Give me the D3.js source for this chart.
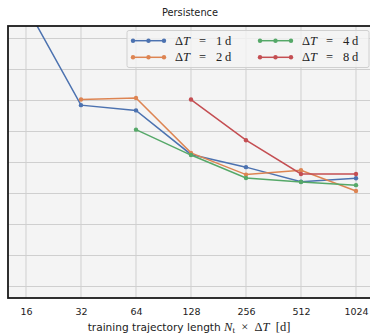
<!DOCTYPE html>
<html>
<head>
<meta charset="utf-8">
<script src="https://cdn.jsdelivr.net/npm/d3@7"></script>
<style>
  body { margin: 0; background: #fff; }
  text { font-family: "DejaVu Sans", sans-serif; }
  .math { font-family: "Liberation Serif", serif; }
</style>
</head>
<body>
<svg id="chart" width="370" height="334"></svg>
<script>
// training trajectory lengths (days)
var lengths = [16, 32, 64, 128, 256, 512, 1024];
var xTickLabels = ["16", "32", "64", "128", "256", "512", "1024"];
// y ticks (unlabelled in the figure)
var yTicks = [0, 1, 2, 3, 4, 5, 6, 7, 8];

// error values per ΔT (arbitrary units)
var dt1 = [9.05, 5.85, 5.68, 4.26, 3.85, 3.38, 3.49];
var dt2 = [null, 6.03, 6.08, 4.31, 3.61, 3.75, 3.08];
var dt4 = [null, null, 5.06, 4.24, 3.50, 3.37, 3.27];
var dt8 = [null, null, null, 6.03, 4.72, 3.63, 3.63];

var seriesNames = ["1", "2", "4", "8"];
var seriesValues = [dt1, dt2, dt4, dt8];
var colors = ["#4c72b0", "#dd8452", "#55a868", "#c44e52"];

var svg = d3.select("#chart");
var pLeft = 8, pTop = 26, pRight = 376, pBottom = 298;

var x = d3.scaleLog().base(2).domain([16, 1024]).range([26, 356]);
var y = d3.scaleLinear().domain([0, 8]).range([286.5, 38.5]);

svg.append("defs").append("clipPath").attr("id", "clip")
    .append("rect")
    .attr("x", pLeft).attr("y", pTop)
    .attr("width", pRight - pLeft).attr("height", pBottom - pTop);

// background
svg.append("rect")
    .attr("x", pLeft).attr("y", pTop)
    .attr("width", pRight - pLeft).attr("height", pBottom - pTop)
    .attr("fill", "#f4f4f4");

// grid
var grid = svg.append("g").attr("clip-path", "url(#clip)");
grid.selectAll(".vgrid")
    .data(lengths)
    .enter()
    .append("line")
    .attr("x1", function(d){ return x(d); })
    .attr("x2", function(d){ return x(d); })
    .attr("y1", pTop).attr("y2", pBottom)
    .attr("stroke", "#cfcfcf").attr("stroke-width", 1);
grid.selectAll(".hgrid")
    .data(yTicks)
    .enter()
    .append("line")
    .attr("x1", pLeft).attr("x2", pRight)
    .attr("y1", function(d){ return y(d); })
    .attr("y2", function(d){ return y(d); })
    .attr("stroke", "#cfcfcf").attr("stroke-width", 1);

// lines
var plot = svg.append("g").attr("clip-path", "url(#clip)");
var line = d3.line()
    .defined(function(d){ return d.v != null; })
    .x(function(d){ return x(d.len); })
    .y(function(d){ return y(d.v); });

seriesValues.forEach(function(vals, i){
  var pts = lengths.map(function(len, j){ return {len: len, v: vals[j]}; });
  plot.append("path")
      .datum(pts)
      .attr("d", line)
      .attr("fill", "none")
      .attr("stroke", colors[i])
      .attr("stroke-width", 1.5);
  plot.selectAll(".pt" + i)
      .data(pts.filter(function(d){ return d.v != null; }))
      .enter()
      .append("circle")
      .attr("cx", function(d){ return x(d.len); })
      .attr("cy", function(d){ return y(d.v); })
      .attr("r", 2.2)
      .attr("fill", colors[i]);
});

// frame
svg.append("rect")
    .attr("x", pLeft).attr("y", pTop)
    .attr("width", pRight - pLeft).attr("height", pBottom - pTop)
    .attr("fill", "none")
    .attr("stroke", "#1a1a1a")
    .attr("stroke-width", 1.8);

// x axis labels
var xAxis = d3.axisBottom(x)
    .tickValues(lengths)
    .tickFormat(function(d, i){ return xTickLabels[i]; })
    .tickSize(0)
    .tickPadding(10);
var gx = svg.append("g")
    .attr("transform", "translate(0," + pBottom + ")")
    .call(xAxis);
gx.select(".domain").remove();
gx.selectAll("text")
    .attr("font-family", "DejaVu Sans, sans-serif")
    .attr("font-size", 9.5)
    .attr("fill", "#222");

// title
svg.append("text")
    .attr("x", 190).attr("y", 15.5)
    .attr("text-anchor", "middle")
    .attr("font-size", 9.8)
    .attr("fill", "#222")
    .text("Persistence");

// x axis title
var xl = svg.append("text")
    .attr("x", 189).attr("y", 331)
    .attr("text-anchor", "middle")
    .attr("font-size", 10.6)
    .attr("fill", "#222")
    .style("white-space", "pre");
xl.append("tspan").text("training trajectory length ");
xl.append("tspan").attr("class", "math").attr("font-style", "italic").attr("font-size", 12.5).text("N");
xl.append("tspan").attr("class", "math").attr("font-size", 9).attr("dy", 2).text("t");
xl.append("tspan").attr("class", "math").attr("font-size", 12.5).attr("dy", -2).text("  ×  Δ");
xl.append("tspan").attr("class", "math").attr("font-style", "italic").attr("font-size", 12.5).text("T");
xl.append("tspan").attr("class", "math").attr("font-size", 12.5).text("  [d]");

// legend
var legend = svg.append("g");
legend.append("rect")
    .attr("x", 127).attr("y", 30.5)
    .attr("width", 242).attr("height", 37)
    .attr("rx", 2)
    .attr("fill", "#f4f4f4").attr("fill-opacity", 0.8)
    .attr("stroke", "#d0d0d0").attr("stroke-width", 1);

var legendPos = [[133, 40.7], [133, 57.3], [260, 40.7], [260, 57.3]];
seriesNames.forEach(function(name, i){
  var p = legendPos[i];
  var g = legend.append("g").attr("transform", "translate(" + p[0] + "," + p[1] + ")");
  g.append("line")
      .attr("x1", 0).attr("x2", 31)
      .attr("stroke", colors[i]).attr("stroke-width", 1.5);
  g.selectAll("circle")
      .data([0, 15.5, 31])
      .enter()
      .append("circle")
      .attr("cx", function(d){ return d; })
      .attr("r", 2.2)
      .attr("fill", colors[i]);
  var t = g.append("text")
      .attr("class", "math")
      .attr("y", 4)
      .attr("font-size", 12.5)
      .attr("fill", "#222");
  t.append("tspan").attr("x", 42).text("Δ");
  t.append("tspan").attr("font-style", "italic").text("T");
  t.append("tspan").attr("x", 66).text("=");
  t.append("tspan").attr("x", 83).text(name);
  t.append("tspan").attr("x", 92).text("d");
});
</script>
</body>
</html>
